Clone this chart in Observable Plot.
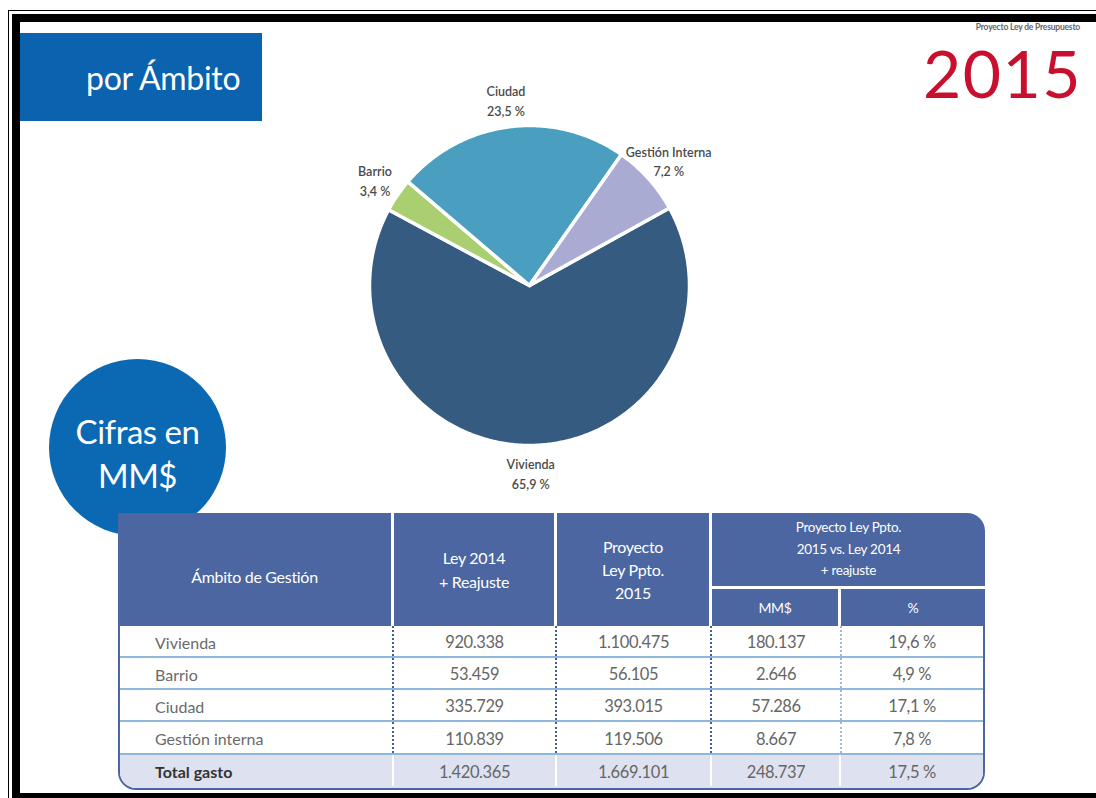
<!DOCTYPE html>
<html>
<head>
<meta charset="utf-8">
<script src="https://cdn.jsdelivr.net/npm/d3@7"></script>
<script src="https://cdn.jsdelivr.net/npm/@observablehq/plot@0.6"></script>
<style>
  html, body { margin: 0; padding: 0; background: #fff; }
  body { width: 1096px; height: 798px; overflow: hidden; position: relative; font-family: Lato, "Open Sans", sans-serif; }
  .abs { position: absolute; box-sizing: border-box; }
  .hdr { position: absolute; color: #fff; text-align: center; display: flex; align-items: center; justify-content: center; line-height: 1.45; box-sizing: border-box; }
  .cell { position: absolute; color: #666; font-size: 16px; display: flex; align-items: center; box-sizing: border-box; }
</style>
</head>
<body>
<script>
// ---------- data ----------
const categories = ["Vivienda", "Barrio", "Ciudad", "Gestión Interna"];
const shares = [65.9, 3.4, 23.5, 7.2];
const shareLabels = ["65,9 %", "3,4 %", "23,5 %", "7,2 %"];
const sliceColors = ["#355b80", "#a9cf70", "#4a9fc0", "#a9abd3"];

const rowNames = ["Vivienda", "Barrio", "Ciudad", "Gestión interna", "Total gasto"];
const ley2014 = [920338, 53459, 335729, 110839, 1420365];
const ppto2015 = [1100475, 56105, 393015, 119506, 1669101];
const diffMM = [180137, 2646, 57286, 8667, 248737];
const diffPct = [19.6, 4.9, 17.1, 7.8, 17.5];

const headerLabels = ["Ámbito de Gestión", "Ley 2014\n+ Reajuste", "Proyecto\nLey Ppto.\n2015", "Proyecto Ley Ppto.\n2015 vs. Ley 2014\n+ reajuste", "MM$", "%"];

// ---------- page frame & decorations ----------
const root = document.body;
function div(cls, style, html) {
  const d = document.createElement("div");
  d.className = cls;
  Object.assign(d.style, style);
  if (html != null) d.innerHTML = html;
  root.appendChild(d);
  return d;
}
// frame
div("abs", {left: "8px", top: "10px", width: "1200px", height: "900px", border: "1px solid #000"});
div("abs", {left: "12px", top: "14px", width: "1200px", height: "787px", border: "8px solid #000", borderRight: "none"});

// title box
div("abs", {left: "20px", top: "33px", width: "242px", height: "88px", background: "#0b62ae", color: "#fff",
  fontSize: "32px", display: "flex", alignItems: "center", paddingLeft: "66px", letterSpacing: "-0.3px"}, "por Ámbito");

// top-right
div("abs", {left: "900px", top: "22px", width: "180px", textAlign: "right", fontSize: "8.5px", lineHeight: "10px", color: "#666", fontWeight: "bold", letterSpacing: "-0.2px"}, "Proyecto Ley de Presupuesto");
div("abs", {left: "870px", top: "45px", width: "212px", height: "55px", textAlign: "right", fontSize: "66px", color: "#c8102e", lineHeight: "55px", letterSpacing: "1.5px"}, "2015");

// circle
div("abs", {left: "49px", top: "359px", width: "177px", height: "177px", borderRadius: "50%", background: "#0b68b2", color: "#fff",
  fontSize: "33px", display: "flex", alignItems: "center", justifyContent: "center", textAlign: "center", lineHeight: "44px", paddingTop: "10px", letterSpacing: "-0.5px"}, "Cifras en<br>MM$");

// ---------- pie with Plot ----------
const pie = d3.pie().sort(null).value(d => d.value).startAngle(61 * Math.PI / 180).endAngle(61 * Math.PI / 180 + 2 * Math.PI);
const arcs = pie(categories.map((name, i) => ({name, value: shares[i], label: shareLabels[i]})));
const pts = [];
for (const a of arcs) {
  pts.push({name: a.data.name, x: 0, y: 0});
  const n = Math.max(4, Math.ceil((a.endAngle - a.startAngle) / 0.01));
  for (let k = 0; k <= n; k++) {
    const t = a.startAngle + (a.endAngle - a.startAngle) * k / n;
    pts.push({name: a.data.name, x: Math.sin(t), y: Math.cos(t)});
  }
  pts.push({name: a.data.name, x: 0, y: 0});
}
const labelR = 1.17;
const labels = arcs.map(a => {
  const m = (a.startAngle + a.endAngle) / 2;
  return {text: a.data.name + "\n" + a.data.label, x: Math.sin(m) * labelR, y: Math.cos(m) * labelR};
});
const W = 500, H = 420, R = 160;
const pieSvg = Plot.plot({
  width: W, height: H, margin: 0,
  x: {domain: [-W / 2 / R, W / 2 / R], axis: null},
  y: {domain: [-H / 2 / R, H / 2 / R], axis: null},
  color: {domain: categories, range: sliceColors},
  style: {background: "transparent", fontFamily: "Lato, sans-serif"},
  marks: [
    Plot.line(pts, {x: "x", y: "y", z: "name", fill: "name", stroke: "white", strokeWidth: 3.5, strokeLinejoin: "round"}),
    Plot.text(labels, {x: "x", y: "y", text: "text", fontSize: 12.5, fill: "#4a4a4a", fontWeight: 600, lineHeight: 1.55})
  ]
});
pieSvg.style.position = "absolute";
pieSvg.style.left = (529 - W / 2) + "px";
pieSvg.style.top = (285 - H / 2) + "px";
root.appendChild(pieSvg);

// ---------- table ----------
const fmt = d3.formatLocale({decimal: ",", thousands: ".", grouping: [3]});
const fInt = fmt.format(",d");
const fPct = v => fmt.format(".1f")(v) + " %";
const colX = [120, 393, 556, 711, 841, 983];
const HEAD_TOP = 513, HEAD_BOT = 626, SUB = 586;
const ROW_TOP = 626, ROW_H = [32, 32, 32, 33, 33];

// header background
div("abs", {left: "118px", top: HEAD_TOP + "px", width: "867px", height: (HEAD_BOT - HEAD_TOP) + "px", background: "#4b66a0", borderTopRightRadius: "18px"});
// header separators
[391, 554, 709].forEach(x => div("abs", {left: x + "px", top: HEAD_TOP + "px", width: "3px", height: (HEAD_BOT - HEAD_TOP) + "px", background: "#fff"}));
div("abs", {left: "711px", top: SUB + "px", width: "274px", height: "3px", background: "#fff"});
div("abs", {left: "838px", top: SUB + "px", width: "3px", height: (HEAD_BOT - SUB) + "px", background: "#fff"});
// header labels
const hdrBoxes = [
  [118, 391, HEAD_TOP + 14, HEAD_BOT, 16],
  [394, 554, HEAD_TOP, HEAD_BOT, 16],
  [557, 709, HEAD_TOP, HEAD_BOT, 16],
  [712, 985, HEAD_TOP, SUB, 13.5],
  [712, 838, SUB + 5, HEAD_BOT, 14],
  [841, 985, SUB + 5, HEAD_BOT, 14]
];
hdrBoxes.forEach(([x0, x1, y0, y1, fs], i) => {
  div("hdr", {left: x0 + "px", top: y0 + "px", width: (x1 - x0) + "px", height: (y1 - y0) + "px", fontSize: fs + "px", lineHeight: i === 3 ? "1.6" : "1.45", letterSpacing: "-0.3px"},
    headerLabels[i].replace(/\n/g, "<br>"));
});

// body
const bodyH = ROW_H.reduce((a, b) => a + b, 0);
div("abs", {left: "118px", top: ROW_TOP + "px", width: "867px", height: (bodyH + 2) + "px",
  border: "2px solid #4b66a0", borderTop: "none", borderBottomLeftRadius: "18px", borderBottomRightRadius: "18px", overflow: "hidden"});
let y = ROW_TOP;
rowNames.forEach((name, i) => {
  const h = ROW_H[i];
  const isTotal = i === rowNames.length - 1;
  if (isTotal) {
    div("abs", {left: "120px", top: y + "px", width: "863px", height: h + "px", background: "#dee2f0", borderBottomLeftRadius: "16px", borderBottomRightRadius: "16px"});
  } else {
    div("abs", {left: "120px", top: (y + h - 2) + "px", width: "863px", height: "2px", background: "#8fb6dc"});
  }
  [391, 554, 709, 839].forEach((x, j) => {
    if (isTotal) {
      div("abs", {left: (x + (j < 3 ? 1 : 0)) + "px", top: y + "px", width: "2px", height: (h - 2) + "px", background: "#fff"});
    } else {
      div("abs", {left: (x + 1) + "px", top: y + "px", width: "0px", height: (h - 2) + "px", borderLeft: (j < 3 ? "2.5px dotted #3f5f9c" : "2px dotted #a9b8d8")});
    }
  });
  const vals = [fInt(ley2014[i]), fInt(ppto2015[i]), fInt(diffMM[i]), fPct(diffPct[i])];
  div("cell", {left: "155px", top: y + "px", height: h + "px", width: "230px", color: isTotal ? "#333" : "#6a6a6a", fontWeight: isTotal ? "bold" : "normal", fontSize: "16px"}, name);
  vals.forEach((v, j) => {
    const x0 = colX[j + 1];
    const x1 = j === 3 ? 983 : colX[j + 2];
    div("cell", {left: x0 + "px", top: y + "px", height: h + "px", width: (x1 - x0) + "px", justifyContent: "center", color: "#666", fontSize: "16.5px", letterSpacing: "-0.4px"}, v);
  });
  y += h;
});
</script>
</body>
</html>
